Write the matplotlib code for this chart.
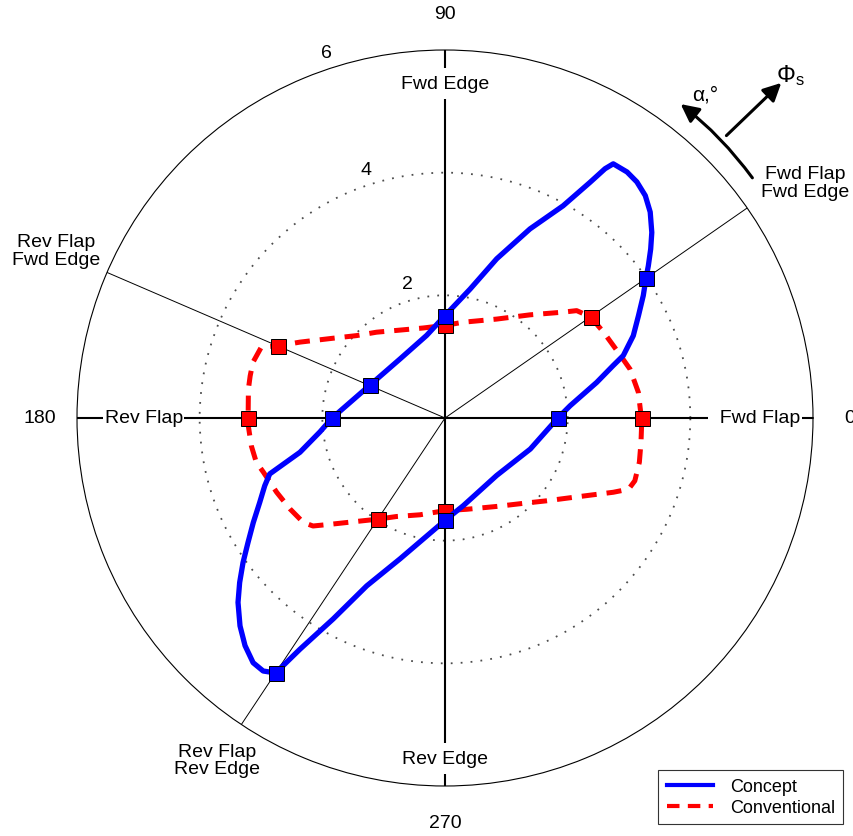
import numpy as np
import matplotlib.pyplot as plt

plt.rcParams["font.family"] = ["Liberation Sans", "DejaVu Sans"]
plt.rcParams["mathtext.fontset"] = "custom"
plt.rcParams["mathtext.rm"] = "Liberation Sans"
plt.rcParams["mathtext.it"] = "Liberation Sans:italic"

# reference lines (deg) and the loads picked off at each of them
station_deg = [0, 34.8, 90, 156.7, 180, 236.4, 270]
concept_station_r = [1.84, 3.99, 1.67, 1.34, 1.84, 4.99, 1.67]
conventional_station_r = [3.21, 2.89, 1.51, 2.97, 3.21, 1.98, 1.51]

# full loops, angle in degrees and magnitude
concept_deg = [0, 5.6, 13.2, 17.3, 19.3, 23.6, 27.9, 31.7, 34.8, 36.8, 39.4,
               41.9, 45.1, 48.0, 50.9, 53.5, 56.5, 57.3, 58.4, 60.9, 65.8,
               72.0, 79.0, 90, 102.5, 127.3, 156.7, 180, 186.3, 193.3, 197.7,
               200.6, 204.5, 208.6, 212.3, 215.6, 218.7, 221.7, 225.4, 228.7,
               231.9, 234.3, 236.4, 237.9, 240.9, 245.0, 252.3, 270, 281.8,
               311.9, 340.0, 360]
concept_r = [1.84, 2.05, 2.54, 2.87, 3.08, 3.35, 3.57, 3.80, 3.99, 4.14, 4.34,
             4.53, 4.74, 4.88, 4.96, 4.99, 4.97, 4.83, 4.51, 3.96, 3.38,
             2.73, 2.14, 1.67, 1.38, 1.21, 1.34, 1.84, 2.05, 2.43, 3.00,
             3.14, 3.32, 3.56, 3.80, 4.05, 4.29, 4.52, 4.76, 4.94,
             5.07, 5.08, 4.99, 4.45, 3.75, 3.02, 2.41, 1.67, 1.46,
             1.26, 1.48, 1.84]

conventional_deg = [0, 2.1, 7.6, 14.8, 20.8, 28.4, 34.8, 39.2, 41.8, 50.5,
                    62.4, 79.2, 90, 103.6, 117.1, 128.6, 137.0, 144.5, 152.4,
                    156.7, 158.9, 163.8, 167.8, 171.6, 180, 182.2, 188.2,
                    193.2, 196.6, 203.8, 210.4, 216.4, 219.3, 223.5, 228.5,
                    236.4, 243.8, 255.5, 270, 283.4, 300.3, 312.6, 320.9,
                    327.5, 332.0, 336.2, 338.8, 341.7, 347.2, 352.9, 360]
conventional_r = [3.21, 3.19, 3.18, 3.12, 3.02, 2.94, 2.89, 2.77, 2.59, 2.18,
                  1.82, 1.59, 1.51, 1.51, 1.61, 1.79, 1.97, 2.24, 2.67,
                  2.97, 3.21, 3.26, 3.25, 3.24, 3.21, 3.21, 3.19,
                  3.16, 3.09, 3.00, 2.93, 2.87, 2.78, 2.51, 2.26,
                  1.98, 1.79, 1.63, 1.51, 1.53, 1.67, 1.89, 2.14,
                  2.42, 2.68, 3.00, 3.21, 3.26, 3.25, 3.22, 3.21]

ring_ticks = [2, 4, 6]
angle_ticks = [0, 90, 180, 270]
r_max = 6

fig = plt.figure(figsize=(8.54, 8.37), dpi=100)
ax = fig.add_axes([77 / 854, 50 / 837, 736 / 854, 736 / 837], projection="polar")
ax.set_ylim(0, r_max)
ax.set_xticks([])
ax.set_yticks(ring_ticks[:-1])
ax.set_yticklabels([])
ax.xaxis.grid(False)
ax.yaxis.grid(True, linestyle=(0, (1, 4.5)), color="0.3", lw=1.3)
ax.tick_params(axis="y", length=0)
ax.spines["polar"].set_linewidth(0.8)

rad = np.radians

# main axes and the three oblique load lines
for ang in angle_ticks:
    ax.plot([rad(ang)] * 2, [0, r_max], color="black", lw=1.5, zorder=2)
for ang in [34.8, 156.7, 236.4]:
    ax.plot([rad(ang)] * 2, [0, r_max], color="black", lw=0.7, zorder=2)

box = dict(facecolor="white", edgecolor="none", pad=5)
ax.text(rad(90), 5.45, "Fwd Edge", ha="center", va="center", fontsize=14, bbox=box, zorder=3)
ax.text(rad(270), 5.55, "Rev Edge", ha="center", va="center", fontsize=14, bbox=box, zorder=3)
ax.text(rad(0), 5.05, "  Fwd Flap", ha="center", va="center", fontsize=14,
        bbox=dict(facecolor="white", edgecolor="none", pad=1), zorder=3)
ax.text(rad(180), 4.91, "Rev Flap", ha="center", va="center", fontsize=14,
        bbox=dict(facecolor="white", edgecolor="none", pad=1), zorder=3)

ax.text(rad(33.2), 7.02, "Fwd Flap\nFwd Edge", ha="center", va="center",
        fontsize=14, linespacing=1.05)
ax.text(rad(156.7), 6.91, "Rev Flap\nFwd Edge", ha="center", va="center",
        fontsize=14, linespacing=1.05)
ax.text(rad(236.3), 6.70, "Rev Flap\nRev Edge", ha="center", va="center",
        fontsize=14, linespacing=1.05)

# angle and magnitude labels
for ang in angle_ticks:
    ax.text(rad(ang), 6.6, str(ang), ha="center", va="center", fontsize=14)
for val, ang, rr in zip(ring_ticks, [105.6, 107.7, 107.9], [2.28, 4.25, 6.27]):
    ax.text(rad(ang), rr, str(val), ha="center", va="center", fontsize=14)

# load loops
ax.plot(rad(np.array(conventional_deg)), conventional_r, color="red", lw=3.6,
        dashes=(3, 2), label="Conventional", zorder=4)
ax.plot(rad(np.array(station_deg)), conventional_station_r, ls="none", marker="s",
        ms=10.8, mfc="red", mec="black", mew=0.7, zorder=5)
ax.plot(rad(np.array(concept_deg)), concept_r, color="blue", lw=3.8,
        solid_joinstyle="round", label="Concept", zorder=6)
ax.plot(rad(np.array(station_deg)), concept_station_r, ls="none", marker="s",
        ms=10.8, mfc="blue", mec="black", mew=0.7, zorder=7)

# direction arrows
ax.annotate("", xy=(rad(53.1), 6.40), xytext=(rad(38.0), 6.36),
            arrowprops=dict(arrowstyle="-|>,head_length=0.6,head_width=0.3",
                            lw=2.2, color="black", shrinkA=0, shrinkB=0,
                            mutation_scale=18,
                            connectionstyle="arc3,rad=0.07"),
            annotation_clip=False)
ax.annotate("", xy=(rad(44.9), 7.74), xytext=(rad(45.1), 6.5),
            arrowprops=dict(arrowstyle="-|>,head_length=0.6,head_width=0.3",
                            lw=2.2, color="black", shrinkA=0, shrinkB=0,
                            mutation_scale=18),
            annotation_clip=False)
ax.text(rad(51.2), 6.78, "α,°", ha="center", va="center", fontsize=15)
ax.text(rad(44.8), 7.94, r"$\Phi_{\rm s}$", ha="center", va="center", fontsize=17)

handles, labels = ax.get_legend_handles_labels()
order = [labels.index("Concept"), labels.index("Conventional")]
leg = fig.legend([handles[i] for i in order], [labels[i] for i in order],
                 loc="lower right", bbox_to_anchor=(843 / 854, 12 / 837),
                 fontsize=13, fancybox=False, framealpha=1, borderaxespad=0,
                 handlelength=2.6, handletextpad=0.9, labelspacing=0.2,
                 borderpad=0.45)
leg.get_frame().set_edgecolor("0.2")
leg.get_frame().set_linewidth(0.8)
for line in leg.get_lines():
    line.set_linewidth(3)

fig.savefig("out.png", dpi=100)
